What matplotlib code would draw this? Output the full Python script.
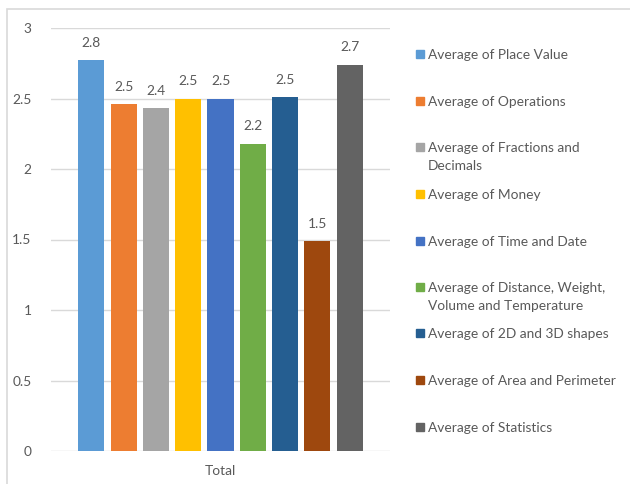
import matplotlib.pyplot as plt
from matplotlib.patches import Rectangle

# Average scores per topic, "Total" category
topics = ["Place Value", "Operations", "Fractions and\nDecimals", "Money",
          "Time and Date", "Distance, Weight,\nVolume and Temperature",
          "2D and 3D shapes", "Area and Perimeter", "Statistics"]
averages = [2.77, 2.46, 2.43, 2.50, 2.50, 2.18, 2.51, 1.49, 2.74]
colors = ["#5b9bd5", "#ed7d31", "#a5a5a5", "#ffc000", "#4472c4",
          "#70ad47", "#255e91", "#9e480e", "#636363"]
category = "Total"

plt.rcParams['font.family'] = ['Lato', 'DejaVu Sans']
txt = "#595959"
grid = "#d9d9d9"
fs = 9.9

fig = plt.figure(figsize=(6.3, 4.84), dpi=100)
W, H = 630, 484
ax = fig.add_axes([51 / W, (H - 451) / H, (390 - 51) / W, (451 - 28) / H])

pitch = 0.0953
width = 0.0767
n = len(averages)
for i, (v, c) in enumerate(zip(averages, colors)):
    x = (i - (n - 1) / 2) * pitch
    ax.bar(x, v, width=width, color=c, zorder=3)
    ax.text(x, v + 0.08, f"{v:.1f}", ha="center", va="bottom",
            fontsize=fs, color=txt)

ax.set_xlim(-0.5, 0.5)
ax.set_ylim(0, 3)
ax.set_yticks([0, 0.5, 1, 1.5, 2, 2.5, 3])
ax.set_yticklabels(["0", "0.5", "1", "1.5", "2", "2.5", "3"])
ax.set_xticks([0])
ax.set_xticklabels([category])
ax.tick_params(axis="both", length=0, labelsize=fs, colors=txt)
ax.tick_params(axis="y", pad=14)
ax.tick_params(axis="x", pad=10)
ax.yaxis.grid(True, color=grid, linewidth=1, zorder=0)
for s in ax.spines.values():
    s.set_visible(False)

# legend entries on the right
legend_y = [54, 101, 147, 194, 241, 287, 333, 380, 427]
for t, c, y in zip(topics, colors, legend_y):
    fig.patches.append(Rectangle((416 / W, (H - y - 4) / H), 8 / W, 8 / H,
                                 transform=fig.transFigure, color=c))
    fig.text(428 / W, (H - y + 5) / H, "Average of " + t, ha="left", va="top",
             fontsize=fs, color=txt, linespacing=1.6)

# chart border
fig.patches.append(Rectangle((7 / W, -0.1), 1.0, (H - 9) / H + 0.1,
                             transform=fig.transFigure, fill=False,
                             edgecolor=grid, linewidth=1.2))

fig.savefig("out.png", dpi=100)
